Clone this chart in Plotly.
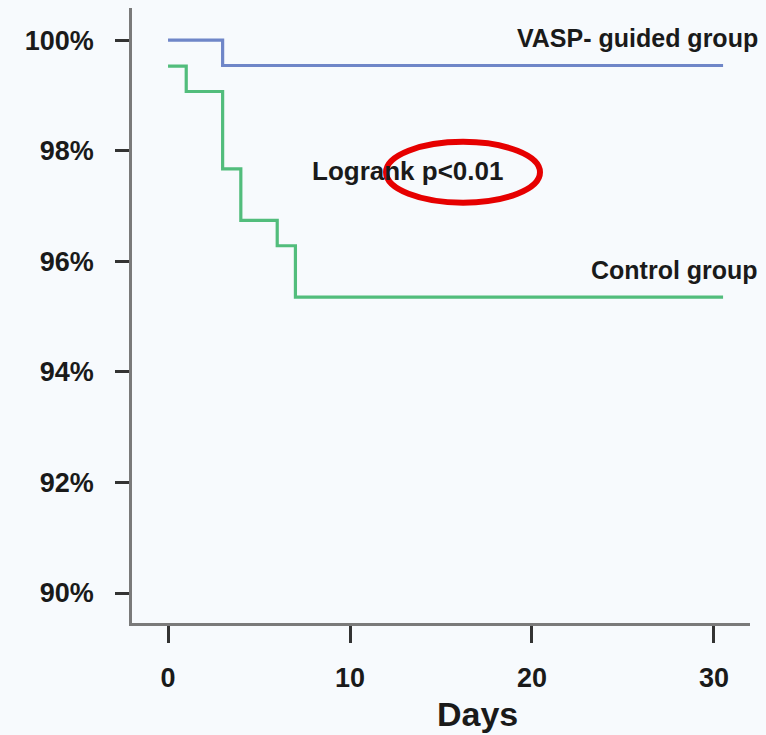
import plotly.graph_objects as go

# Kaplan-Meier step curves (survival in %)
vasp_days = [0, 3, 30.5]
vasp_surv = [100.0, 99.54, 99.54]

ctrl_days = [0, 1, 3, 4, 6, 7, 30.5]
ctrl_surv = [99.53, 99.07, 97.67, 96.74, 96.28, 95.35, 95.35]

x_ticks = [0, 10, 20, 30]
y_ticks = [90, 92, 94, 96, 98, 100]
y_tick_text = [f"{v}%" for v in y_ticks]

font_family = "Liberation Sans, Arial, Helvetica, sans-serif"
ink = "#1a1a1a"
bg = "#f7fafd"

fig = go.Figure()
fig.add_trace(go.Scatter(
    x=vasp_days, y=vasp_surv, mode="lines", line_shape="hv",
    line=dict(color="#6f86c8", width=3.2), showlegend=False, hoverinfo="skip"))
fig.add_trace(go.Scatter(
    x=ctrl_days, y=ctrl_surv, mode="lines", line_shape="hv",
    line=dict(color="#52bd7c", width=3.2), showlegend=False, hoverinfo="skip"))

label_font = dict(family=font_family, size=25, color=ink, weight="bold")
fig.add_annotation(x=1.016, y=0.952, xref="paper", yref="paper",
                   text="VASP- guided group", showarrow=False,
                   xanchor="right", yanchor="middle", font=label_font)
fig.add_annotation(x=1.016, y=0.574, xref="paper", yref="paper",
                   text="Control group", showarrow=False,
                   xanchor="right", yanchor="middle", font=label_font)
fig.add_annotation(x=7.8, y=97.64, text="Logrank p<0.01", showarrow=False,
                   xanchor="left", yanchor="middle",
                   font=dict(family=font_family, size=26, color=ink, weight="bold"))
fig.add_annotation(x=16.98, y=-0.148, xref="x", yref="paper", text="Days",
                   showarrow=False, xanchor="center", yanchor="middle",
                   font=dict(family=font_family, size=34, color=ink, weight="bold"))

# red highlight around the p-value
fig.add_shape(type="circle", xref="x", yref="y",
              x0=11.98, x1=20.44, y0=97.06, y1=98.16,
              line=dict(color="#e60000", width=6))

fig.update_xaxes(
    range=[-1.98, 31.98], tickvals=x_ticks, showgrid=False, zeroline=False,
    showline=True, linecolor="#7a7a7a", linewidth=2.5,
    ticks="outside", ticklen=17, tickwidth=2.5, tickcolor="#333333",
    ticklabelstandoff=12,
    tickfont=dict(family=font_family, size=27, color=ink, weight="bold"))
fig.update_yaxes(
    range=[89.458, 100.58], tickvals=y_ticks, ticktext=y_tick_text,
    showgrid=False, zeroline=False,
    showline=True, linecolor="#7a7a7a", linewidth=2.5,
    ticks="outside", ticklen=14, tickwidth=2.5, tickcolor="#333333",
    ticklabelstandoff=16,
    tickfont=dict(family=font_family, size=27, color=ink, weight="bold"))

fig.update_layout(
    width=766, height=735,
    margin=dict(l=132, r=16, t=8, b=112),
    paper_bgcolor=bg, plot_bgcolor=bg,
)

fig.write_html("out.html")
